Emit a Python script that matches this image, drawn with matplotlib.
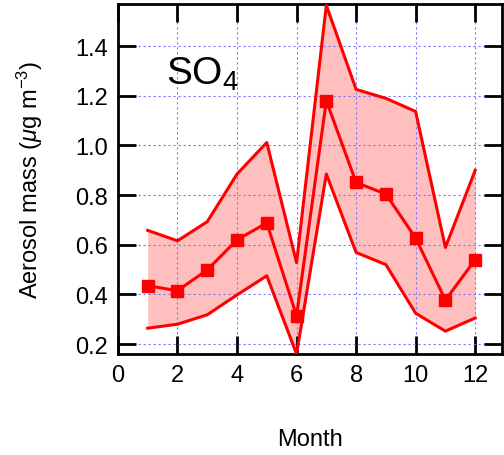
import matplotlib
matplotlib.use('Agg')
import matplotlib.pyplot as plt

plt.rcParams['font.family'] = ['Liberation Sans', 'DejaVu Sans']
plt.rcParams['mathtext.fontset'] = 'custom'
plt.rcParams['mathtext.rm'] = 'Liberation Sans'
plt.rcParams['mathtext.it'] = 'Liberation Sans:italic'

# monthly SO4 aerosol mass
months = [1, 2, 3, 4, 5, 6, 7, 8, 9, 10, 11, 12]
median = [0.435, 0.415, 0.499, 0.620, 0.688, 0.314, 1.180, 0.851, 0.804, 0.627, 0.377, 0.540]
upper = [0.658, 0.616, 0.693, 0.885, 1.012, 0.528, 1.565, 1.226, 1.190, 1.137, 0.589, 0.900]
lower = [0.264, 0.280, 0.318, 0.398, 0.475, 0.160, 0.885, 0.569, 0.520, 0.324, 0.252, 0.305]

fig = plt.figure(figsize=(5.04, 4.56), dpi=100)
ax = fig.add_axes([0.234, 0.2215, 0.762, 0.7675])

ax.fill_between(months, lower, upper, color='#ffbfbf', lw=0, zorder=1)
ax.plot(months, upper, color='red', lw=2.2, zorder=3)
ax.plot(months, lower, color='red', lw=2.2, zorder=3)
ax.plot(months, median, color='red', lw=2.2, marker='s', ms=9, zorder=4)

ax.set_xlim(0, 12.9)
ax.set_ylim(0.16, 1.57)
ax.set_xticks([0, 2, 4, 6, 8, 10, 12])
ax.set_yticks([0.2, 0.4, 0.6, 0.8, 1.0, 1.2, 1.4])
ax.set_yticklabels(['0.2', '0.4', '0.6', '0.8', '1.0', '1.2', '1.4'])

ax.grid(True, color='#7777ff', ls=(0, (2, 2.5)), lw=0.8, zorder=0)
ax.tick_params(direction='in', length=13, width=2, labelsize=17,
               top=True, right=True, pad=7)
for s in ax.spines.values():
    s.set_linewidth(2)

ax.text(1.62, 1.25, 'SO$_4$', fontsize=28)
ax.set_ylabel('Aerosol mass ($\\mu$g m$^{-3}$)', fontsize=17, labelpad=22)
fig.text(0.615, 0.022, 'Month', fontsize=17, ha='center')

fig.savefig('out.png', dpi=100)
